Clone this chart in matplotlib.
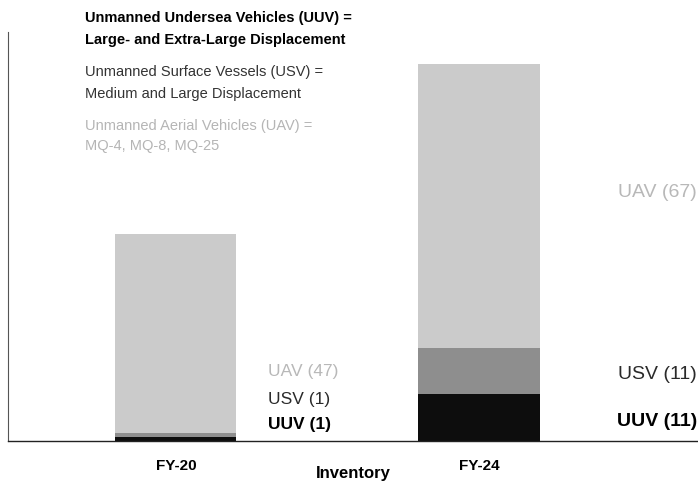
import matplotlib.pyplot as plt
import numpy as np

plt.rcParams['font.family'] = ['Liberation Sans', 'DejaVu Sans']

years = ["FY-20", "FY-24"]
uuv = [1, 11]
usv = [1, 11]
uav = [47, 67]

col_uuv = "#0d0d0d"
col_usv = "#8e8e8e"
col_uav = "#cbcbcb"

fig = plt.figure(figsize=(6.98, 4.84), dpi=100)
ax = fig.add_axes([8 / 698, 43 / 484, 690 / 698, 409 / 484])

x = np.arange(len(years))
w = 0.40
bottom_usv = np.array(uuv)
bottom_uav = bottom_usv + np.array(usv)
ax.bar(x, uuv, w, color=col_uuv)
ax.bar(x, usv, w, bottom=bottom_usv, color=col_usv)
ax.bar(x, uav, w, bottom=bottom_uav, color=col_uav)

ax.set_xlim(-0.554, 1.723)
ax.set_ylim(0, 96.6)

for s in ["top", "right"]:
    ax.spines[s].set_visible(False)
ax.spines["left"].set_color("#555555")
ax.spines["bottom"].set_color("#222222")
ax.spines["left"].set_linewidth(0.8)
ax.spines["bottom"].set_linewidth(1.0)
ax.set_yticks([])
ax.set_xticks(x)
ax.set_xticklabels(years, fontsize=11, fontweight="bold")
ax.tick_params(axis="x", length=0, pad=13)
ax.set_xlabel("Inventory", fontsize=12, fontweight="bold", labelpad=-5)

# segment labels
ax.text(0.305, 16.3, f"UAV ({uav[0]})", fontsize=12.5, color="#b8b8b8", va="center")
ax.text(0.305, 9.7, f"USV ({usv[0]})", fontsize=12.5, color="#2a2a2a", va="center")
ax.text(0.305, 4.0, f"UUV ({uuv[0]})", fontsize=12.5, color="#000000",
        fontweight="bold", va="center")
ax.text(1.72, 58.8, f"UAV ({uav[1]})", fontsize=14, color="#b8b8b8",
        va="center", ha="right")
ax.text(1.72, 15.6, f"USV ({usv[1]})", fontsize=14, color="#2a2a2a",
        va="center", ha="right")
ax.text(1.72, 4.6, f"UUV ({uuv[1]})", fontsize=14, color="#000000",
        fontweight="bold", va="center", ha="right")

# definitions at the top left
defs = [
    ("Unmanned Undersea Vehicles (UUV) =", 18, "#000000", "bold"),
    ("Large- and Extra-Large Displacement", 40, "#000000", "bold"),
    ("Unmanned Surface Vessels (USV) =", 72, "#333333", "normal"),
    ("Medium and Large Displacement", 94, "#333333", "normal"),
    ("Unmanned Aerial Vehicles (UAV) =", 126, "#b5b5b5", "normal"),
    ("MQ-4, MQ-8, MQ-25", 146, "#b5b5b5", "normal"),
]
for txt, ypx, c, wt in defs:
    fig.text(85 / 698, 1 - ypx / 484, txt, fontsize=10.5, color=c,
             fontweight=wt, va="center", ha="left")

fig.savefig("out.png", dpi=100)
